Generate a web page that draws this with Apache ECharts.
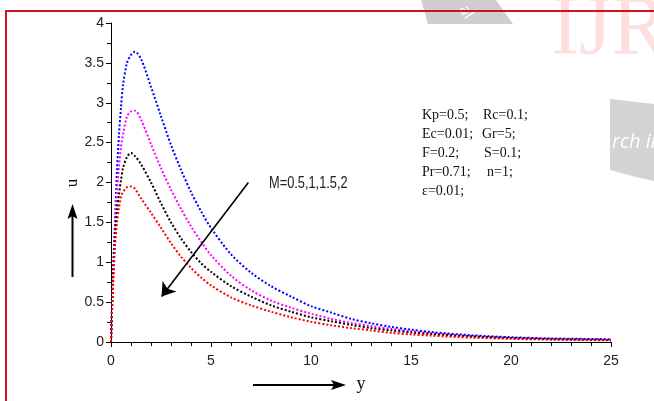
<!DOCTYPE html>
<html>
<head>
<meta charset="utf-8">
<title>Velocity profiles u(y) for several M</title>
<script src="https://cdn.jsdelivr.net/npm/echarts@6/dist/echarts.min.js"></script>
<style>
  html, body { margin: 0; padding: 0; background: #ffffff; }
  #chart { width: 654px; height: 401px; }
</style>
</head>
<body>
<div id="chart"></div>
<script>
// Sample positions along y
const ySamples = [0, 0.1, 0.2, 0.3, 0.4, 0.5, 0.6, 0.8, 1.0, 1.2, 1.5, 2, 2.5, 3, 3.5, 4, 4.5, 5,
                  6, 7, 8, 9, 10, 11, 12, 13, 14, 15, 16, 18, 20, 22, 25];

// Velocity u for M = 0.5 (blue)
const uM05 = [0, 0.85, 1.5, 2.15, 2.6, 2.94, 3.22, 3.5, 3.6, 3.64, 3.55, 3.2, 2.83, 2.47, 2.16, 1.88, 1.64, 1.43,
              1.10, 0.87, 0.70, 0.57, 0.45, 0.37, 0.29, 0.235, 0.19, 0.155, 0.125, 0.085, 0.06, 0.045, 0.035];
// Velocity u for M = 1 (magenta)
const uM1 = [0, 0.8, 1.45, 1.9, 2.2, 2.45, 2.6, 2.83, 2.89, 2.90, 2.79, 2.48, 2.18, 1.91, 1.67, 1.45, 1.26, 1.09,
             0.83, 0.65, 0.52, 0.43, 0.355, 0.29, 0.24, 0.20, 0.165, 0.135, 0.11, 0.075, 0.05, 0.04, 0.028];
// Velocity u for M = 1.5 (black)
const uM15 = [0, 0.75, 1.35, 1.65, 1.85, 2.03, 2.18, 2.32, 2.37, 2.33, 2.23, 2.0, 1.74, 1.50, 1.30, 1.13, 0.99, 0.88,
              0.70, 0.57, 0.46, 0.38, 0.31, 0.26, 0.215, 0.175, 0.145, 0.12, 0.10, 0.07, 0.05, 0.035, 0.025];
// Velocity u for M = 2 (red)
const uM2 = [0, 0.7, 1.2, 1.5, 1.68, 1.82, 1.88, 1.94, 1.95, 1.92, 1.80, 1.62, 1.43, 1.24, 1.07, 0.93, 0.81, 0.71,
             0.56, 0.46, 0.38, 0.31, 0.255, 0.21, 0.175, 0.145, 0.115, 0.095, 0.08, 0.055, 0.04, 0.03, 0.02];

// Axis ticks
const xTicks = { min: 0, max: 25, step: 5 };
const yTicks = { min: 0, max: 4, step: 0.5 };

// Arrow showing the direction of increasing M (data coordinates)
const mArrowFrom = [6.87, 2.0];
const mArrowTo = [2.53, 0.57];

// Parameter block
const paramsLeft = ['Kp=0.5;', 'Ec=0.01;', 'F=0.2;', 'Pr=0.71;', '\u03b5=0.01;'];
const paramsRight = ['Rc=0.1;', 'Gr=5;', 'S=0.1;', 'n=1;', ''];

const mLabel = 'M=0.5,1,1.5,2';
const uTitle = 'u';

const sans = '"Liberation Sans", Arial, sans-serif';
const serif = '"Liberation Serif", "Times New Roman", serif';

function pairs(vals) {
  return ySamples.map((y, i) => [y, vals[i]]);
}

function dotted(name, vals, color) {
  return {
    name: name,
    type: 'line',
    data: pairs(vals),
    showSymbol: false,
    smooth: 0.3,
    lineStyle: { color: color, width: 2, type: [2, 2], cap: 'butt' },
    z: 3
  };
}

const series = [
  dotted('M=0.5', uM05, '#0000ff'),
  dotted('M=1', uM1, '#ff00ff'),
  dotted('M=1.5', uM15, '#000000'),
  dotted('M=2', uM2, '#ff0000')
];

series[3].markLine = {
  silent: true,
  animation: false,
  symbol: ['none', 'arrow'],
  symbolSize: 13,
  label: { show: false },
  lineStyle: { color: '#000', width: 1.6, type: 'solid' },
  data: [[{ coord: mArrowFrom }, { coord: mArrowTo }]]
};

// Small helper for the straight arrows beside the axis names
function arrowGraphic(x1, y1, x2, y2) {
  const dx = x2 - x1, dy = y2 - y1;
  const len = Math.sqrt(dx * dx + dy * dy);
  const ux = dx / len, uy = dy / len;
  const px = -uy, py = ux;
  const headL = 15, headW = 5, notch = 3;
  const bx = x2 - ux * headL, by = y2 - uy * headL;
  return [
    {
      type: 'line',
      shape: { x1: x1, y1: y1, x2: x2 - ux * 10, y2: y2 - uy * 10 },
      style: { stroke: '#000', lineWidth: 2 }
    },
    {
      type: 'polygon',
      shape: {
        points: [
          [x2, y2],
          [bx + px * headW, by + py * headW],
          [bx + ux * notch, by + uy * notch],
          [bx - px * headW, by - py * headW]
        ]
      },
      style: { fill: '#000' }
    }
  ];
}

const graphics = [];

// faint background marks
graphics.push({
  type: 'polygon', z: -10, silent: true,
  shape: { points: [[421, 0], [496, 0], [513, 24], [428, 24]] },
  style: { fill: '#cfcfcf' }
});
graphics.push({
  type: 'text', z: -9, silent: true, x: 466, y: 12, rotation: -1.0,
  style: { text: 'al', fill: '#ffffff', font: '16px "Open Sans", sans-serif', align: 'center', verticalAlign: 'middle' }
});
graphics.push({
  type: 'text', z: -10, silent: true, x: 551, y: 74,
  style: { text: 'IJR', fill: '#ffdede', font: '84px ' + serif, verticalAlign: 'bottom' }
});
graphics.push({
  type: 'polygon', z: -10, silent: true,
  shape: { points: [[610, 99], [654, 104], [654, 181], [632, 176], [610, 170]] },
  style: { fill: '#d3d3d3' }
});
graphics.push({
  type: 'text', z: -9, silent: true, x: 612, y: 142,
  style: { text: 'rch in', fill: '#ffffff', font: 'italic 20px "Open Sans", sans-serif', verticalAlign: 'middle' }
});

// frame
graphics.push({
  type: 'rect', z: 100, silent: true,
  shape: { x: 6, y: 11, width: 700, height: 450 },
  style: { fill: 'none', stroke: '#cc1122', lineWidth: 2 }
});

// vertical axis title, reading bottom to top
graphics.push({
  type: 'text', x: 73, y: 183, rotation: Math.PI / 2,
  style: { text: uTitle, fill: '#111', font: '17px ' + serif, align: 'center', verticalAlign: 'middle' }
});

// axis direction arrows
graphics.push(...arrowGraphic(72.5, 277, 72.5, 204));
graphics.push(...arrowGraphic(253, 385, 346, 385));

// label for the M arrow (condensed sans)
graphics.push({
  type: 'text', x: 269, y: 184, scaleX: 0.8,
  style: { text: mLabel, fill: '#222', font: '16px ' + sans, verticalAlign: 'middle' }
});

// parameter block
const rightX = [483, 482, 484, 487, 0];
paramsLeft.forEach((t, i) => {
  graphics.push({
    type: 'text', x: 422, y: 115 + i * 19,
    style: { text: t, fill: '#111', font: '14px ' + serif, verticalAlign: 'middle' }
  });
  if (paramsRight[i]) {
    graphics.push({
      type: 'text', x: rightX[i], y: 115 + i * 19,
      style: { text: paramsRight[i], fill: '#111', font: '14px ' + serif, verticalAlign: 'middle' }
    });
  }
});

const chart = echarts.init(document.getElementById('chart'), null, { renderer: 'canvas' });

chart.setOption({
  animation: false,
  backgroundColor: '#ffffff',
  grid: { left: 111, top: 23, width: 500, height: 319, containLabel: false },
  xAxis: {
    type: 'value',
    min: xTicks.min, max: xTicks.max, interval: xTicks.step,
    name: 'y',
    nameLocation: 'middle',
    nameGap: 33,
    nameTextStyle: { fontFamily: serif, fontSize: 18, color: '#111' },
    axisLine: { lineStyle: { color: '#000', width: 1 } },
    axisTick: { show: true, length: 5, lineStyle: { color: '#000' } },
    minorTick: { show: true, splitNumber: 5, length: 4, lineStyle: { color: '#000' } },
    splitLine: { show: false },
    axisLabel: { fontFamily: sans, fontSize: 14, color: '#222', margin: 12 }
  },
  yAxis: {
    type: 'value',
    min: yTicks.min, max: yTicks.max, interval: yTicks.step,
    axisLine: { show: true, lineStyle: { color: '#000', width: 1 } },
    axisTick: { show: true, length: 5, lineStyle: { color: '#000' } },
    minorTick: { show: true, splitNumber: 2, length: 4, lineStyle: { color: '#000' } },
    splitLine: { show: false },
    axisLabel: { fontFamily: sans, fontSize: 14, color: '#222', margin: 7 }
  },
  series: series,
  graphic: graphics
});
</script>
</body>
</html>
